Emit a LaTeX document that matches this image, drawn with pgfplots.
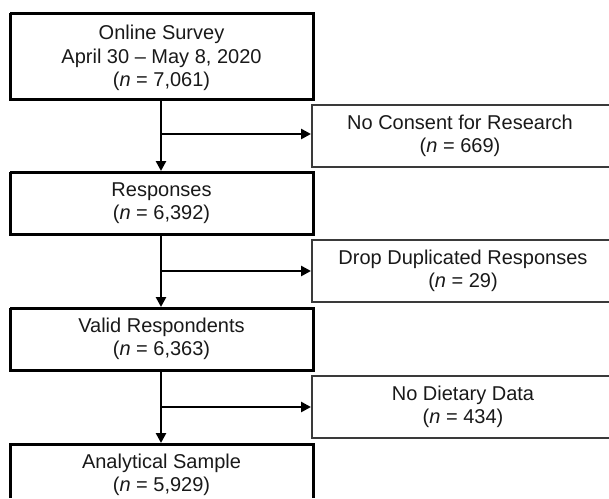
\documentclass[border=0pt]{standalone}
\usepackage{pgfplots}
\pgfplotsset{compat=1.18}
\usepackage{fontspec}
\setmainfont{Liberation Sans}
\usetikzlibrary{arrows.meta}
\definecolor{sidegray}{HTML}{3A3A3A}
\tikzset{flow/.style={font=\fontsize{20}{23.5}\selectfont, align=center, text=black!90, inner sep=0pt}}
\begin{document}
\begin{tikzpicture}
\begin{axis}[scale only axis, width=609pt, height=498pt,
  xmin=0, xmax=609, ymin=0, ymax=498, y dir=reverse,
  hide axis, clip=true]
% main boxes
\addplot[black, line width=3pt, line join=miter] coordinates {(10,13)(313,13)(313,99)(10,99)(10,13)};
\addplot[black, line width=3pt, line join=miter] coordinates {(10,172)(313,172)(313,234)(10,234)(10,172)};
\addplot[black, line width=3pt, line join=miter] coordinates {(10,308)(313,308)(313,370)(10,370)(10,308)};
\addplot[black, line width=3pt, line join=miter] coordinates {(10,498)(10,444)(313,444)(313,498)};
% side boxes
\addplot[sidegray, line width=1.7pt, line join=miter] coordinates {(609,105)(312,105)(312,167)(609,167)};
\addplot[sidegray, line width=1.7pt, line join=miter] coordinates {(609,240)(312,240)(312,302)(609,302)};
\addplot[sidegray, line width=1.7pt, line join=miter] coordinates {(609,376)(312,376)(312,438)(609,438)};
% vertical arrows
\addplot[black, line width=2.6pt, -{Triangle[length=10pt,width=10pt]}] coordinates {(161,99)(161,171)};
\addplot[black, line width=2.6pt, -{Triangle[length=10pt,width=10pt]}] coordinates {(161,234)(161,307)};
\addplot[black, line width=2.6pt, -{Triangle[length=10pt,width=10pt]}] coordinates {(161,370)(161,443)};
% horizontal arrows
\addplot[black, line width=2.6pt, -{Triangle[length=10pt,width=10pt]}] coordinates {(161,134)(311,134)};
\addplot[black, line width=2.6pt, -{Triangle[length=10pt,width=10pt]}] coordinates {(161,271)(311,271)};
\addplot[black, line width=2.6pt, -{Triangle[length=10pt,width=10pt]}] coordinates {(161,407)(311,407)};
% texts
\node[flow] at (axis cs:161.5,58) {Online Survey\\April 30 -- May 8, 2020\\(\textit{n} = 7,061)};
\node[flow] at (axis cs:460,136) {No Consent for Research\\(\textit{n} = 669)};
\node[flow] at (axis cs:161.5,203) {Responses\\(\textit{n} = 6,392)};
\node[flow] at (axis cs:463,271) {Drop Duplicated Responses\\(\textit{n} = 29)};
\node[flow] at (axis cs:161.5,339) {Valid Respondents\\(\textit{n} = 6,363)};
\node[flow] at (axis cs:463,407) {No Dietary Data\\(\textit{n} = 434)};
\node[flow] at (axis cs:161.5,475) {Analytical Sample\\(\textit{n} = 5,929)};
\end{axis}
\pgfresetboundingbox
\path[use as bounding box] (current axis.south west) rectangle (current axis.north east);
\end{tikzpicture}
\end{document}
